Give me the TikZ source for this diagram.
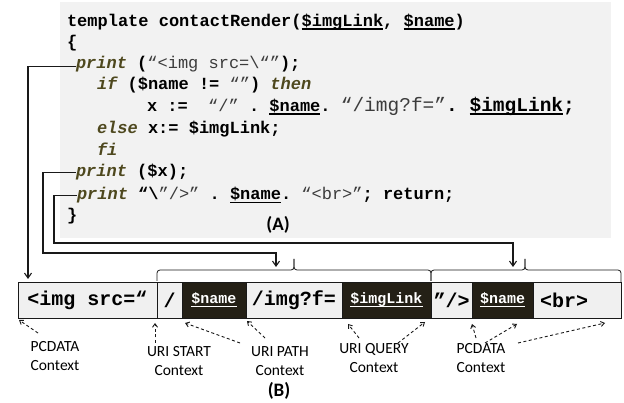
\documentclass[tikz,border=0pt]{standalone}
\usepackage{fontspec}
\setmonofont{Liberation Mono}
\newfontfamily\labfont{Carlito}
\usetikzlibrary{arrows.meta}
\definecolor{codebg}{RGB}{242,242,242}
\definecolor{kwc}{RGB}{78,72,30}
\definecolor{strc}{RGB}{60,60,60}
\definecolor{barlight}{RGB}{240,240,240}
\definecolor{bardark}{RGB}{36,32,22}
\definecolor{linec}{RGB}{25,25,25}
\newcommand\kw[1]{{\bfseries\itshape\color{kwc}#1}}
\newcommand\st[1]{{\mdseries\color{strc}#1}}
\newcommand\ulx[1]{\setbox0\hbox{#1}\rlap{\rule[-3.5pt]{\wd0}{1.6pt}}\box0}
\tikzset{
  code/.style={anchor=base west, inner sep=0, outer sep=0, font=\ttfamily\bfseries\fontsize{17}{20}\selectfont},
  conn/.style={draw=linec, line width=1.1pt, -{Straight Barb[length=5pt,width=7pt]}},
  br/.style={draw=linec, line width=0.8pt, rounded corners=3pt},
  seg/.style={draw=linec, line width=0.8pt, minimum height=36pt, inner sep=0, outer sep=0, anchor=north west},
  light/.style={seg, fill=barlight, text=black, font=\ttfamily\bfseries\fontsize{20}{22}\selectfont},
  dark/.style={seg, fill=bardark, text=white, font=\ttfamily\bfseries\fontsize{15}{18}\selectfont},
  lab/.style={font=\labfont\fontsize{15.5}{19}\selectfont, align=center, inner sep=0},
  tag/.style={font=\labfont\bfseries\fontsize{19}{21}\selectfont, inner sep=0},
  dsh/.style={draw=linec, line width=0.9pt, dash pattern=on 3pt off 2.5pt, -{Straight Barb[length=3.5pt,width=5pt]}}
}
\begin{document}
\begin{tikzpicture}[x=1pt,y=-1pt]
\useasboundingbox (0,0) rectangle (624,403);
\node[fill=codebg, minimum width=551pt, minimum height=236pt, anchor=north west, inner sep=0, outer sep=0] (codebox) at (60,2) {};
% code lines
\node[code] (l1) at (67,26.5) {template contactRender(\ulx{\$imgLink}, \ulx{\$name})};
\node[code] (l2) at (67,47.5) {\{};
\node[code] (l3) at (76,68.5) {\kw{print} (\st{“<img src=\textbackslash“”});};
\node[code] (l4) at (97,90) {\kw{if} (\$name != \st{“”}) \kw{then}};
\node[code] (l5) at (147,111.5) {x :=~~\st{“/”} . \ulx{\$name}. {\fontsize{19.5}{22}\selectfont\st{“/img?f=”}. \ulx{\$imgLink};}};
\node[code] (l6) at (97,134) {\kw{else} x:= \$imgLink;};
\node[code] (l7) at (97,155.5) {\kw{fi}};
\node[code] (l8) at (76,177) {\kw{print} (\$x);};
\node[code] (l9) at (77,200) {\kw{print} “\textbackslash\st{”/>”} . \ulx{\$name}. \st{“<br>”}; return;};
\node[code] (l10) at (67,221) {\}};
\node[tag] (A) at (278,225) {(A)};
% bar
\node[light, minimum width=139pt] (s1) at (18,282) {<img src=“};
\node[light, minimum width=25pt] (s2) at (157,282) {/};
\node[dark, minimum width=64pt] (s3) at (182,282) {\ulx{\$name}};
\node[light, minimum width=96pt] (s4) at (246,282) {/img?f=};
\node[dark, minimum width=89pt] (s5) at (342,282) {\ulx{\$imgLink}};
\node[light, minimum width=41pt] (s6) at (431,282) {”/>};
\node[dark, minimum width=61pt] (s7) at (472,282) {\ulx{\$name}};
\node[light, minimum width=88pt] (s8) at (533,282) {\makebox[74pt][l]{<br>}};
% braces
\coordinate (b1) at (294,270);
\coordinate (b1t) at (294,259);
\coordinate (b2) at (525,270);
\coordinate (b2t) at (525,259);
\draw[br] ([yshift=1pt]s2.north west) |- (b1) -- (b1t);
\draw[br] ([yshift=1pt]s5.north east) |- (b1) -- (b1t);
\draw[br] ([yshift=1pt]s6.north west) |- (b2) -- (b2t);
\draw[br] (s8.north east) |- (b2) -- (b2t);
% connectors
\coordinate (k1) at (28,279);
\coordinate (k2) at (43,253);
\coordinate (k2e) at (276,267);
\coordinate (k3) at (54,243);
\coordinate (k3e) at (513,267);
\draw[conn] ([yshift=-2pt]l3.west) -| (k1);
\draw[conn] (l8.west) -| (k2) -| (k2e);
\draw[conn] (l9.west) -| (k3) -| (k3e);
% labels
\node[lab] (p1) at (55,356) {PCDATA\\Context};
\node[lab] (p2) at (179,361) {URI START\\Context};
\node[lab] (p3) at (280,361) {URI PATH\\Context};
\node[lab] (p4) at (374,358) {URI QUERY\\Context};
\node[lab] (p5) at (481,358) {PCDATA\\Context};
\node[tag] (B) at (279,391) {(B)};
% dashed pointers
\coordinate (t1) at (38,333);   \coordinate (q1) at (19,320);
\coordinate (t2) at (155,343);  \coordinate (q2) at (155,323);
\coordinate (t3) at (240,343);  \coordinate (q3) at (185,323);
\coordinate (t4) at (265,338);  \coordinate (q4) at (247,321);
\coordinate (t5) at (359,338);  \coordinate (q5) at (348,324);
\coordinate (t6) at (398,343);  \coordinate (q6) at (425,322);
\coordinate (t7) at (476,338);  \coordinate (q7) at (472,324);
\coordinate (t8) at (485,343);  \coordinate (q8) at (517,324);
\coordinate (t9) at (518,343);  \coordinate (q9) at (605,323);
\foreach \i in {1,...,9} {\draw[dsh] (t\i) -- (q\i);}
\end{tikzpicture}
\end{document}
